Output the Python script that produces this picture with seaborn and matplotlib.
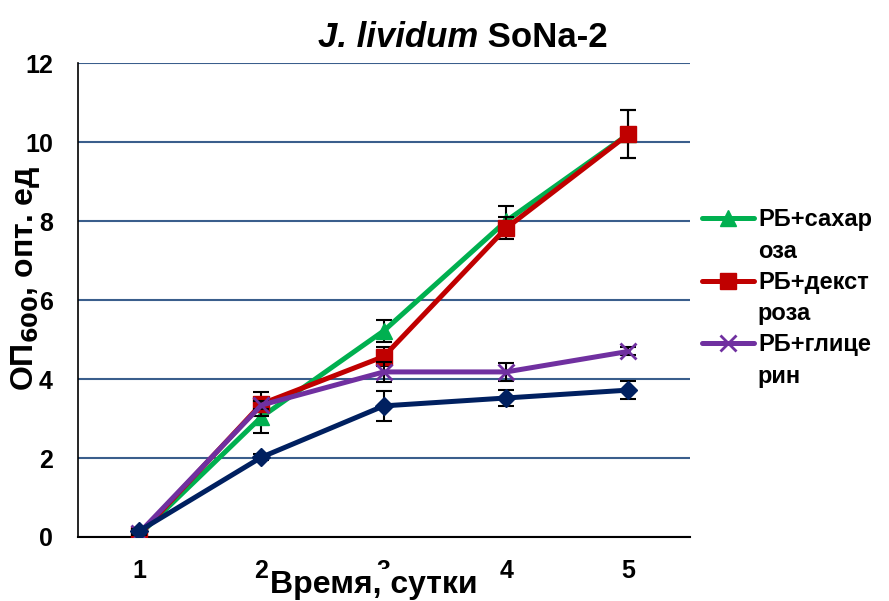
import matplotlib
matplotlib.use("Agg")
import matplotlib.pyplot as plt
from matplotlib.lines import Line2D
import numpy as np
import pandas as pd
import seaborn as sns

# ------------------------------------------------------------------
# DATA
# ------------------------------------------------------------------
days = [1, 2, 3, 4, 5]
series_names = ["РБ", "РБ+сахароза", "РБ+декстроза", "РБ+глицерин"]
od_rb = [0.15, 2.02, 3.32, 3.52, 3.72]
od_sucrose = [0.05, 3.04, 5.22, 8.0, 10.2]
od_dextrose = [0.05, 3.37, 4.57, 7.82, 10.2]
od_glycerol = [0.1, 3.34, 4.18, 4.18, 4.7]
err_rb = [0.05, 0.08, 0.38, 0.2, 0.22]
err_sucrose = [0.05, 0.4, 0.27, 0.38, 0.6]
err_dextrose = [0.05, 0.3, 0.25, 0.28, 0.6]
err_glycerol = [0.05, 0.1, 0.25, 0.22, 0.1]
legend_labels = ["РБ+сахар", "оза", "РБ+декст", "роза", "РБ+глице", "рин"]

COLORS = {"РБ": "#002060", "РБ+сахароза": "#00B050",
          "РБ+декстроза": "#C00000", "РБ+глицерин": "#7030A0"}
MARKERS = {"РБ": "D", "РБ+сахароза": "^", "РБ+декстроза": "s", "РБ+глицерин": "x"}
MSIZE = {"РБ": 9, "РБ+сахароза": 11, "РБ+декстроза": 11, "РБ+глицерин": 11}

values = [od_rb, od_sucrose, od_dextrose, od_glycerol]
errors = [err_rb, err_sucrose, err_dextrose, err_glycerol]

df = pd.DataFrame({
    "day": days * 4,
    "od": sum(values, []),
    "err": sum(errors, []),
    "series": sum([[n] * len(days) for n in series_names], []),
})

sns.set_theme(style="white")
plt.rcParams["font.family"] = ["Liberation Sans", "DejaVu Sans"]
plt.rcParams["font.weight"] = "bold"
plt.rcParams["text.color"] = "black"
plt.rcParams["axes.labelcolor"] = "black"
plt.rcParams["xtick.color"] = "black"
plt.rcParams["ytick.color"] = "black"

fig = plt.figure(figsize=(8.89, 6.01), dpi=100)
ax = fig.add_axes([0.0877, 0.1065, 0.688, 0.7885])

# draw order: green, red, purple, navy on top
order = ["РБ+сахароза", "РБ+декстроза", "РБ+глицерин", "РБ"]
handles = {}
for z, name in enumerate(order):
    sub = df[df["series"] == name]
    ax.errorbar(sub["day"], sub["od"], yerr=sub["err"], fmt="none",
                ecolor="black", elinewidth=1.5, capsize=5.5, capthick=1.5,
                zorder=3 + z)
    mew = 2 if name == "РБ+глицерин" else 1
    sns.lineplot(data=sub, x="day", y="od", ax=ax, color=COLORS[name],
                 lw=3.6, marker=MARKERS[name], markersize=MSIZE[name],
                 markeredgecolor=COLORS[name], markeredgewidth=mew,
                 zorder=3.5 + z, legend=False)
    handles[name] = Line2D([], [], color=COLORS[name], lw=3.6,
                           marker=MARKERS[name], markersize=MSIZE[name],
                           markeredgecolor=COLORS[name], markeredgewidth=mew)

ax.set_xlim(0.5, 5.5)
ax.set_ylim(0, 12)
ax.set_xticks(days)
ax.set_yticks(np.arange(0, 13, 2))
ax.tick_params(axis="both", length=0, labelsize=18, labelcolor="black")
ax.tick_params(axis="x", pad=16)
ax.tick_params(axis="y", pad=18)
for lab in ax.get_xticklabels() + ax.get_yticklabels():
    lab.set_fontweight("bold")
ax.yaxis.grid(True, color="#3A5E8C", lw=1.5)
ax.set_axisbelow(True)
for s in ["top", "right"]:
    ax.spines[s].set_visible(False)
ax.spines["left"].set_color("black")
ax.spines["bottom"].set_color("black")
ax.spines["left"].set_linewidth(1.2)
ax.spines["bottom"].set_linewidth(1.5)

ax.set_xlabel("Время, сутки", fontsize=23, fontweight="bold",
              bbox=dict(facecolor="white", edgecolor="none", pad=1))
ax.xaxis.set_label_coords(0.483, -0.07)
ax.set_ylabel("ОП$_{\\mathbf{600}}$, опт. ед", fontsize=23, fontweight="bold")
ax.yaxis.set_label_coords(-0.058, 0.545)

t1 = fig.text(318 / 889, 1 - 47 / 601, "J. lividum", fontsize=25,
              fontweight="bold", style="italic")
ax.annotate(" SoNa-2", xy=(1, 0), xycoords=t1, fontsize=25,
            fontweight="bold", va="bottom", ha="left")

blank = Line2D([], [], linestyle="none")
leg_handles = [handles["РБ+сахароза"], blank, handles["РБ+декстроза"], blank,
               handles["РБ+глицерин"], blank]
fig.legend(leg_handles, legend_labels, loc="upper left",
           bbox_to_anchor=(693 / 889, 1 - 199 / 601), frameon=False,
           prop={"size": 17, "weight": "bold"}, handlelength=2.2,
           handletextpad=0.15, labelspacing=0.35, borderaxespad=0)

fig.savefig("out.png", dpi=100)
